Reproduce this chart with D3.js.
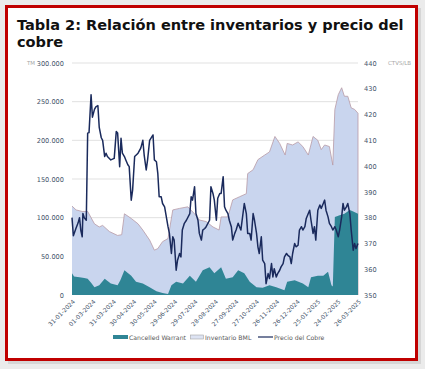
<!DOCTYPE html>
<html><head><meta charset="utf-8">
<script src="https://cdn.jsdelivr.net/npm/d3@7"></script>
<style>
html,body{margin:0;padding:0;background:#e9e9e9;}
svg{display:block;}
</style></head>
<body>
<svg id="c" width="425" height="369"></svg>
<script>
// ---------- DATA ----------
const titleLines = ["Tabla 2: Relación entre inventarios y precio del", "cobre"];
const leftTicks = [0, 50000, 100000, 150000, 200000, 250000, 300000];
const rightTicks = [350, 360, 370, 380, 390, 400, 410, 420, 430, 440];
const xTickLabels = ["31-01-2024","01-03-2024","31-03-2024","30-04-2024","30-05-2024","29-06-2024","29-07-2024","28-08-2024","27-09-2024","27-10-2024","26-11-2024","26-12-2024","25-01-2025","24-02-2025","26-03-2025"];
const seriesNames = ["Cancelled Warrant", "Inventario BML", "Precio del Cobre"];

const invDates = ["2024-01-31","2024-02-06","2024-02-15","2024-02-23","2024-03-04","2024-03-11","2024-03-16","2024-03-26","2024-04-07","2024-04-13","2024-04-17","2024-04-27","2024-05-07","2024-05-14","2024-05-24","2024-05-31","2024-06-05","2024-06-12","2024-06-20","2024-06-27","2024-07-07","2024-07-19","2024-07-29","2024-08-05","2024-08-15","2024-08-25","2024-09-03","2024-09-06","2024-09-16","2024-09-23","2024-10-03","2024-10-13","2024-10-15","2024-10-23","2024-10-30","2024-11-09","2024-11-16","2024-11-24","2024-12-01","2024-12-09","2024-12-12","2024-12-20","2024-12-28","2025-01-04","2025-01-12","2025-01-19","2025-01-26","2025-01-31","2025-02-05","2025-02-12","2025-02-17","2025-02-20","2025-02-25","2025-03-02","2025-03-06","2025-03-11","2025-03-16","2025-03-21","2025-03-26"];
const invValues = [115000,110000,108000,108000,92000,88000,90000,82000,77000,78000,105000,99000,92000,84000,71000,58000,60000,69000,73000,110000,112000,114000,105000,97000,95000,88000,84000,101000,101000,123000,127000,131000,157000,162000,175000,181000,185000,205000,196000,181000,196000,194000,198000,192000,181000,205000,200000,188000,194000,192000,168000,240000,259000,268000,257000,257000,242000,240000,235000];

const cwDates = ["2024-01-31","2024-02-03","2024-02-11","2024-02-18","2024-02-23","2024-02-28","2024-03-04","2024-03-11","2024-03-19","2024-03-28","2024-04-07","2024-04-11","2024-04-17","2024-04-27","2024-05-04","2024-05-14","2024-05-24","2024-06-03","2024-06-12","2024-06-20","2024-06-25","2024-07-02","2024-07-12","2024-07-22","2024-07-31","2024-08-10","2024-08-20","2024-08-27","2024-09-06","2024-09-13","2024-09-23","2024-10-01","2024-10-10","2024-10-18","2024-10-28","2024-11-06","2024-11-16","2024-11-26","2024-12-08","2024-12-12","2024-12-23","2025-01-04","2025-01-12","2025-01-16","2025-01-26","2025-02-03","2025-02-10","2025-02-15","2025-02-17","2025-02-20","2025-02-27","2025-03-06","2025-03-14","2025-03-19","2025-03-26"];
const cwValues = [28000,24000,23000,22000,21000,16000,10000,12500,21000,15000,12500,19000,32000,25000,17000,15000,10000,5000,2600,1200,12500,17000,15000,25000,17000,32000,36000,28000,36000,21000,23000,32000,28000,17000,10000,9500,12500,10000,6000,17000,19000,15000,10000,23000,25000,25000,30000,12500,11000,101000,103000,105000,110000,108000,105000];

const priceDates = ["2024-01-31","2024-02-02","2024-02-06","2024-02-09","2024-02-11","2024-02-13","2024-02-15","2024-02-16","2024-02-18","2024-02-21","2024-02-23","2024-02-25","2024-02-28","2024-03-01","2024-03-04","2024-03-06","2024-03-09","2024-03-11","2024-03-14","2024-03-16","2024-03-19","2024-03-21","2024-03-23","2024-03-28","2024-04-02","2024-04-05","2024-04-07","2024-04-10","2024-04-12","2024-04-14","2024-04-17","2024-04-19","2024-04-22","2024-04-24","2024-04-27","2024-04-29","2024-05-02","2024-05-07","2024-05-11","2024-05-14","2024-05-16","2024-05-19","2024-05-21","2024-05-24","2024-05-29","2024-05-31","2024-06-03","2024-06-05","2024-06-07","2024-06-10","2024-06-12","2024-06-15","2024-06-20","2024-06-22","2024-06-25","2024-06-27","2024-06-29","2024-07-02","2024-07-04","2024-07-07","2024-07-09","2024-07-11","2024-07-14","2024-07-17","2024-07-22","2024-07-24","2024-07-26","2024-07-29","2024-07-31","2024-08-03","2024-08-05","2024-08-08","2024-08-10","2024-08-13","2024-08-15","2024-08-20","2024-08-22","2024-08-25","2024-08-27","2024-08-30","2024-09-01","2024-09-04","2024-09-06","2024-09-09","2024-09-11","2024-09-13","2024-09-16","2024-09-18","2024-09-21","2024-09-23","2024-09-26","2024-09-28","2024-10-01","2024-10-03","2024-10-05","2024-10-10","2024-10-13","2024-10-15","2024-10-18","2024-10-20","2024-10-23","2024-10-25","2024-10-28","2024-10-30","2024-11-01","2024-11-04","2024-11-06","2024-11-09","2024-11-11","2024-11-14","2024-11-16","2024-11-19","2024-11-21","2024-11-23","2024-11-26","2024-11-28","2024-12-01","2024-12-03","2024-12-06","2024-12-08","2024-12-11","2024-12-13","2024-12-16","2024-12-18","2024-12-20","2024-12-23","2024-12-25","2024-12-28","2024-12-30","2025-01-02","2025-01-04","2025-01-07","2025-01-09","2025-01-12","2025-01-14","2025-01-16","2025-01-19","2025-01-21","2025-01-23","2025-01-26","2025-01-29","2025-01-31","2025-02-03","2025-02-05","2025-02-07","2025-02-10","2025-02-12","2025-02-15","2025-02-17","2025-02-20","2025-02-22","2025-02-25","2025-02-27","2025-03-02","2025-03-04","2025-03-06","2025-03-09","2025-03-11","2025-03-14","2025-03-16","2025-03-19","2025-03-21","2025-03-23","2025-03-26"];
const priceValues = [380,373,376,378,380,375,372.6,381.6,380,379,412.8,413,427.7,419,422,423,423.5,415,411,410,403.7,405,403.7,402.4,403,413.4,412.8,399.8,410.8,405,403.7,402.4,400.5,399.8,386.8,390.7,403.7,405,407,410,404.3,398.5,402.4,410,412.1,402.4,401.7,397.2,388.1,388.1,385.5,384.2,376.5,373.9,366.1,372.6,371.3,359.6,363.5,366.1,364.8,375.2,377.8,379,381.6,388.1,386.8,392,381.6,379,373.9,371.3,375.2,375.8,376.5,379,392,389.4,386.8,379,387.5,389.4,389.4,395.9,384.2,382.9,381.6,379,376.5,371.3,373.9,375.2,377.8,376.5,375.2,385.5,381.6,373.9,373.9,371.3,381.6,379,373.9,368.7,366.1,372.6,363.5,362.2,354.4,358.3,356.4,362.2,357,360.2,357,358.3,359.6,360.9,362.2,364.8,366.1,365.4,364.8,362.2,366.1,370,368.7,369.3,375.2,376.5,375.2,376.5,379.7,381.6,382.9,379,373.9,376.5,371.3,382.9,384.9,383.6,385.5,386.8,382.9,380.3,377.8,376.5,375.2,376.5,375.2,372.6,375.2,380.3,385.5,382.9,384.2,385.5,381.6,375.2,367.4,370,368,370];

// ---------- DRAW ----------
const svg = d3.select("#c");
const parse = d3.timeParse("%Y-%m-%d");
const fmtTick = d3.timeFormat("%d-%m-%Y");

// frame
svg.append("rect").attr("x",0).attr("y",0).attr("width",425).attr("height",369).attr("fill","#ebebeb");
svg.append("rect").attr("x",8).attr("y",8).attr("width",413).attr("height",356).attr("fill","#c8c8c8").attr("opacity",0.6);
svg.append("rect").attr("x",6.5).attr("y",6.5).attr("width",410).attr("height",353)
  .attr("fill","#ffffff").attr("stroke","#c00000").attr("stroke-width",3);

// title
const title = svg.append("g").attr("font-family","'DejaVu Sans', Verdana, sans-serif").attr("font-weight","bold").attr("fill","#111");
const t1 = title.append("text").attr("x",17).attr("y",30).attr("font-size",15).text(titleLines[0]);
const w = t1.node().getComputedTextLength();
const fs = 15 * 387 / w;
t1.attr("font-size", fs);
title.append("text").attr("x",17).attr("y",47).attr("font-size",fs).text(titleLines[1]);

const X0 = 72, X1 = 358, Y0 = 295, Y1 = 63;
const x = d3.scaleTime().domain([parse("2024-01-31"), parse("2025-03-26")]).range([X0, X1]);
const yL = d3.scaleLinear().domain([0, 300000]).range([Y0, Y1]);
const yR = d3.scaleLinear().domain([350, 440]).range([Y0, Y1]);

const font = "'DejaVu Sans', Verdana, sans-serif";

// gridlines
svg.append("g").selectAll("line").data(leftTicks.filter(d=>d>0)).join("line")
  .attr("x1",X0).attr("x2",X1).attr("y1",d=>yL(d)).attr("y2",d=>yL(d))
  .attr("stroke","#d9d9d9").attr("stroke-width",0.8);

// areas
const inv = invDates.map((d,i)=>({date:parse(d), v:invValues[i]}));
const cw = cwDates.map((d,i)=>({date:parse(d), v:cwValues[i]}));
const pr = priceDates.map((d,i)=>({date:parse(d), v:priceValues[i]}));

const area = d3.area().x(d=>x(d.date)).y0(yL(0)).y1(d=>yL(d.v));
const topLine = d3.line().x(d=>x(d.date)).y(d=>yL(d.v));
svg.append("path").datum(inv).attr("d",area).attr("fill","#c9d5ee");
svg.append("path").datum(inv).attr("d",topLine).attr("fill","none").attr("stroke","#b89aa6").attr("stroke-width",0.8);
// right edge of inventory area
svg.append("path").datum([inv[inv.length-1], {date:inv[inv.length-1].date, v:0}]).attr("d",topLine)
  .attr("fill","none").attr("stroke","#b89aa6").attr("stroke-width",0.8);
svg.append("path").datum(cw).attr("d",area).attr("fill","#2f8595");

// price line
svg.append("path").datum(pr)
  .attr("d", d3.line().x(d=>x(d.date)).y(d=>yR(d.v)))
  .attr("fill","none").attr("stroke","#1a2a5c").attr("stroke-width",1.5).attr("stroke-linejoin","round");

// left axis
const axL = svg.append("g").attr("transform",`translate(${X0},0)`)
  .call(d3.axisLeft(yL).tickValues(leftTicks).tickSize(0).tickPadding(8)
    .tickFormat(d => d3.format(",")(d).replace(/,/g,".")));
axL.select(".domain").remove();
axL.selectAll("text").attr("font-family",font).attr("font-size",6.6).attr("fill","#44546a");
svg.append("text").attr("x",27).attr("y",yL(300000)+2.3).attr("font-family",font).attr("font-size",5.5).attr("fill","#a6a6a6").text("TM");

// right axis
const axR = svg.append("g").attr("transform",`translate(${X1},0)`)
  .call(d3.axisRight(yR).tickValues(rightTicks).tickSize(0).tickPadding(6));
axR.select(".domain").remove();
axR.selectAll("text").attr("font-family",font).attr("font-size",6.6).attr("fill","#44546a");
svg.append("text").attr("x",388).attr("y",yR(440)+2.3).attr("font-family",font).attr("font-size",5.5).attr("fill","#a6a6a6").text("CTVS/LB");

// x axis labels
const xTicks = xTickLabels.map(s => d3.timeParse("%d-%m-%Y")(s));
const axB = svg.append("g").attr("transform",`translate(0,${Y0})`)
  .call(d3.axisBottom(x).tickValues(xTicks).tickSize(0).tickFormat(fmtTick));
axB.select(".domain").remove();
axB.selectAll("text").attr("font-family",font).attr("font-size",6).attr("fill","#44546a")
  .attr("text-anchor","end").attr("dy",null).attr("y",0)
  .attr("transform","translate(3,7) rotate(-45)");

// legend
const lg = svg.append("g").attr("font-family",font).attr("font-size",6.2).attr("fill","#595959");
lg.append("rect").attr("x",113).attr("y",335).attr("width",15).attr("height",4).attr("fill","#2f8595");
lg.append("text").attr("x",129).attr("y",339.5).text(seriesNames[0]);
lg.append("rect").attr("x",190.5).attr("y",335).attr("width",13).attr("height",4).attr("fill","#dde3f3").attr("stroke","#a6a6a6").attr("stroke-width",0.6);
lg.append("text").attr("x",205).attr("y",339.5).text(seriesNames[1]);
lg.append("line").attr("x1",258).attr("x2",273).attr("y1",337).attr("y2",337).attr("stroke","#1a2a5c").attr("stroke-width",1.2);
lg.append("text").attr("x",274).attr("y",339.5).text(seriesNames[2]);
</script>
</body></html>
